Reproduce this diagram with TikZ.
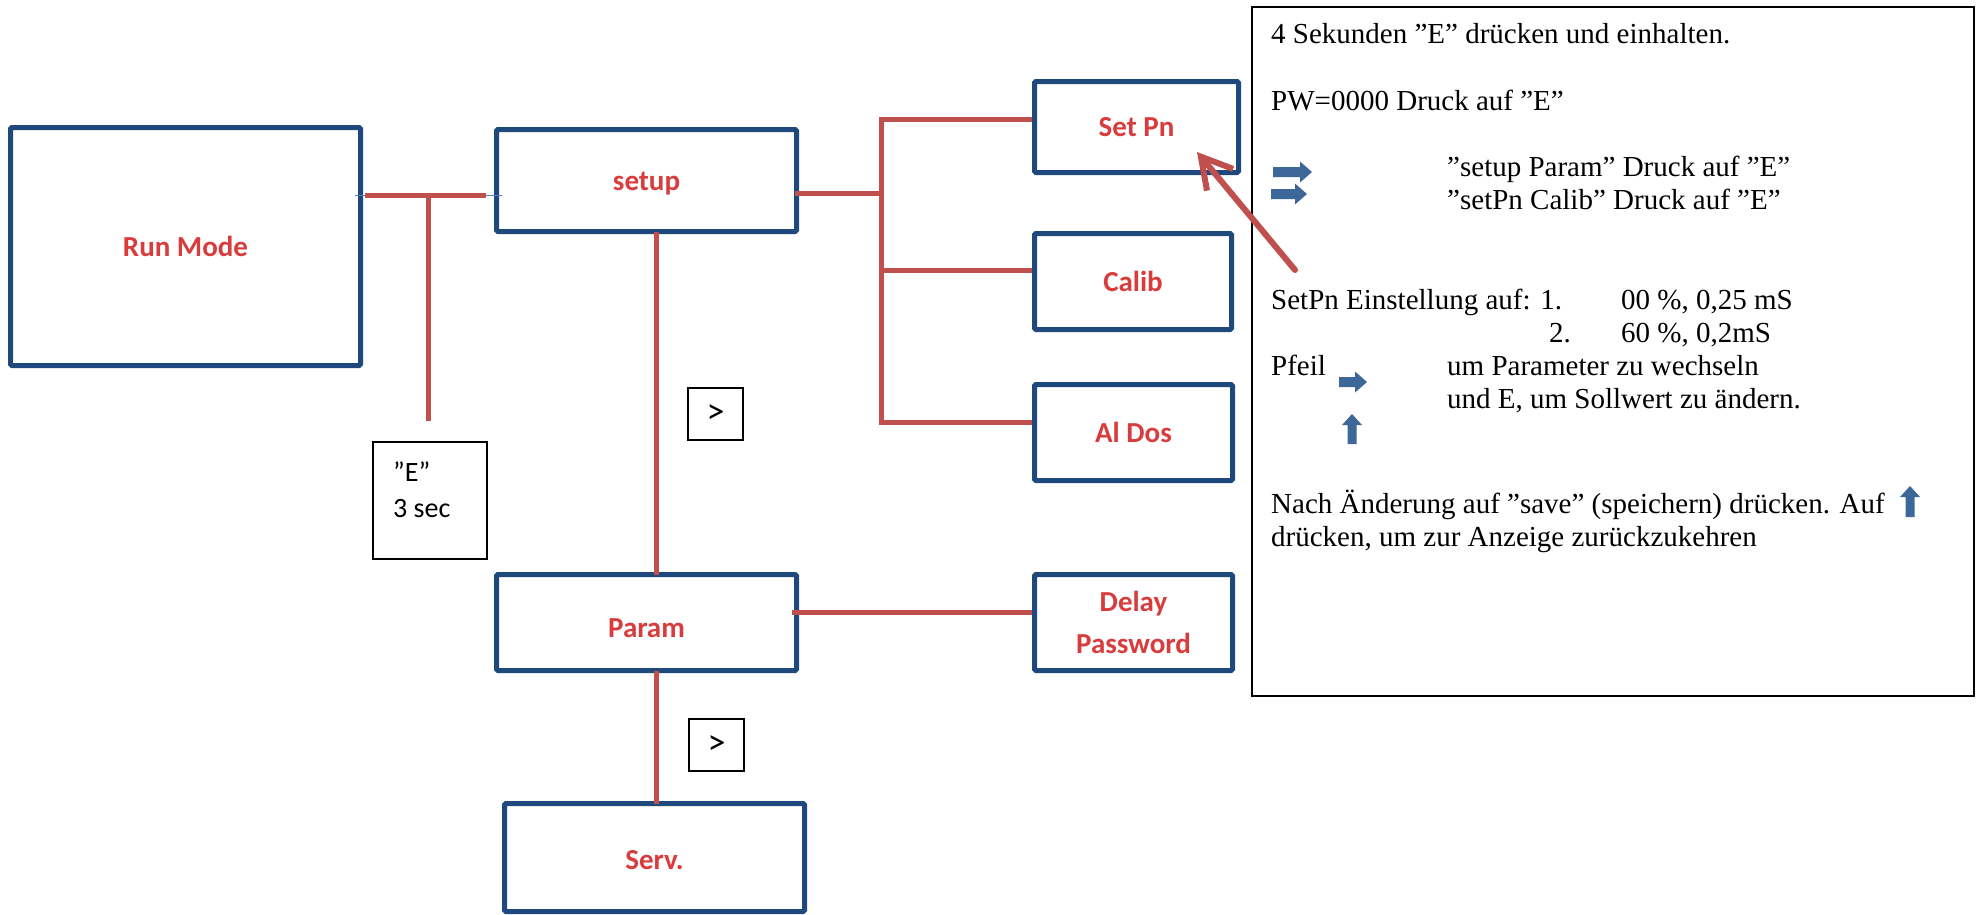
\documentclass[tikz,border=0pt]{standalone}
\usepackage{fontspec}
\setmainfont{Liberation Serif}
\newfontfamily\calfont{Carlito}
\usetikzlibrary{arrows.meta}
\definecolor{boxblue}{HTML}{1F497D}
\definecolor{linered}{HTML}{C0504D}
\definecolor{txtred}{HTML}{D83C3C}
\definecolor{arrblue}{HTML}{3D6799}
\definecolor{tickblue}{HTML}{4F81BD}
\newcommand{\rarrowshape}[3]{%
  \fill[arrblue] (#1,#2) ++(0,-5) -- ++({#3-12},0) -- ++(0,-5.5) -- ++(12,10.5) -- ++(-12,10.5) -- ++(0,-5.5) -- ++({12-#3},0) -- cycle;}
\newcommand{\uarrowshape}[3]{%
  \fill[arrblue] (#1,#2) ++(-4.5,0) -- ++(0,{11-#3}) -- ++(-5.5,0) -- ++(10,-11) -- ++(10,11) -- ++(-5.5,0) -- ++(0,{#3-11}) -- cycle;}
\newcommand{\lowertext}[2]{\raisebox{-#1}[\height][\depth]{#2}}
\begin{document}
\begin{tikzpicture}[x=1pt,y=-1pt,
  box/.style={draw=boxblue, line width=5pt, fill=white, rounded corners=1.5pt,
    font=\calfont\bfseries\fontsize{29}{34}\selectfont, text=txtred, align=center, inner sep=0pt},
  redline/.style={draw=linered, line width=5pt},
  smallbox/.style={draw=black, line width=1.5pt, inner sep=0pt, font=\calfont\fontsize{36}{40}\selectfont},
  etext/.style={anchor=base west, inner sep=0pt, font=\calfont\fontsize{28}{34}\selectfont},
  info/.style={anchor=base west, inner sep=0pt, font=\fontsize{29}{34}\selectfont}]
\useasboundingbox[fill=white] (0,0) rectangle (1981,914);

% boxes
\node[box, minimum width=350pt, minimum height=238pt] (runmode) at (185.5,246.5) {Run Mode};
\node[box, minimum width=300pt, minimum height=102pt] (setup) at (646.5,180.5) {\lowertext{3pt}{setup}};
\node[box, minimum width=204pt, minimum height=91pt] (setpn) at (1136.5,127) {Set Pn};
\node[box, minimum width=197pt, minimum height=96pt] (calib) at (1133,281.5) {Calib};
\node[box, minimum width=198pt, minimum height=96pt] (aldos) at (1133.5,432.5) {Al Dos};
\node[box, minimum width=198pt, minimum height=96pt] (delay) at (1133.5,622.5) {Delay\\[8pt]Password};
\node[box, minimum width=300pt, minimum height=96pt] (param) at (646.5,622.5) {\lowertext{6pt}{Param}};
\node[box, minimum width=300pt, minimum height=108pt] (serv) at (654.5,857.5) {\lowertext{3pt}{Serv.}};

% small boxes
\node[smallbox, minimum width=55pt, minimum height=52pt] (gt1) at (715.5,414) {>};
\node[smallbox, minimum width=55pt, minimum height=52pt] (gt2) at (716.5,745) {>};
\node[smallbox, minimum width=114pt, minimum height=117pt] (ebox) at (430,500.5) {};
\node[etext] (etxt1) at (393,481) {”E”};
\node[etext] (etxt2) at (393,517) {3 sec};

% info box
\node[draw=black, line width=2.5pt, minimum width=722pt, minimum height=689pt, inner sep=0pt] (info) at (1613,351.5) {};
\node[info] (l1) at (1271,43) {4 Sekunden ”E” drücken und einhalten.};
\node[info] (l2) at (1271,110) {PW=0000 Druck auf ”E”};
\node[info] (l3) at (1447,176) {”setup Param” Druck auf ”E”};
\node[info] (l4) at (1447,209) {”setPn Calib” Druck auf ”E”};
\node[info] (l5) at (1271,309) {SetPn Einstellung auf: 1.};
\node[info] (l5b) at (1621,309) {00 \%, 0,25 mS};
\node[info] (l6a) at (1549,342) {2.};
\node[info] (l6b) at (1621,342) {60 \%, 0,2mS};
\node[info] (l7a) at (1271,375) {Pfeil};
\node[info] (l7b) at (1447,375) {um Parameter zu wechseln};
\node[info] (l8) at (1447,408) {und E, um Sollwert zu ändern.};
\node[info] (l9) at (1271,513) {Nach Änderung auf ”save” (speichern) drücken. Auf};
\node[info] (l10) at (1271,546) {drücken, um zur Anzeige zurückzukehren};

% blue arrows
\rarrowshape{1273}{172}{39}
\rarrowshape{1271}{194}{36}
\rarrowshape{1339}{382}{28}
\uarrowshape{1352}{444}{30}
\uarrowshape{1910}{517}{31}

% connectors
\coordinate (j1) at (428,195);
\coordinate (e1) at (428,421);
\draw[tickblue, line width=1pt] ([xshift=-8pt]runmode.east |- j1) -- ([xshift=8pt]setup.west |- j1);
\draw[redline] ([xshift=2pt]runmode.east |- j1) -- ([xshift=-8pt]setup.west |- j1);
\draw[redline] (j1) -- (e1);

\coordinate (t0) at (881,193);
\coordinate (tT) at (881,119);
\coordinate (tM) at (881,270);
\coordinate (tB) at (881,422);
\draw[redline] ([xshift=-4pt]setup.east |- t0) -- (t0);
\draw[redline] (setpn.west |- tT) -- (tT) -- (tB) -- (aldos.west |- tB);
\draw[redline] (tM) -- (calib.west |- tM);

\coordinate (vx) at (656,0);
\draw[redline] ([yshift=2.5pt]setup.south -| vx) -- ([yshift=-2.5pt]param.north -| vx);
\draw[redline] ([yshift=2.5pt]param.south -| vx) -- ([yshift=-2.5pt]serv.north -| vx);
\coordinate (py) at (0,612);
\draw[redline] ([xshift=-7pt]param.east |- py) -- (delay.west |- py);

% pointer arrow to Set Pn
\coordinate (atail) at (1295,270);
\coordinate (atip) at (1197,152);
\draw[redline, line width=6pt, line cap=round, -{Straight Barb[length=30pt,width=34pt]}] (atail) -- (atip);
\end{tikzpicture}
\end{document}
